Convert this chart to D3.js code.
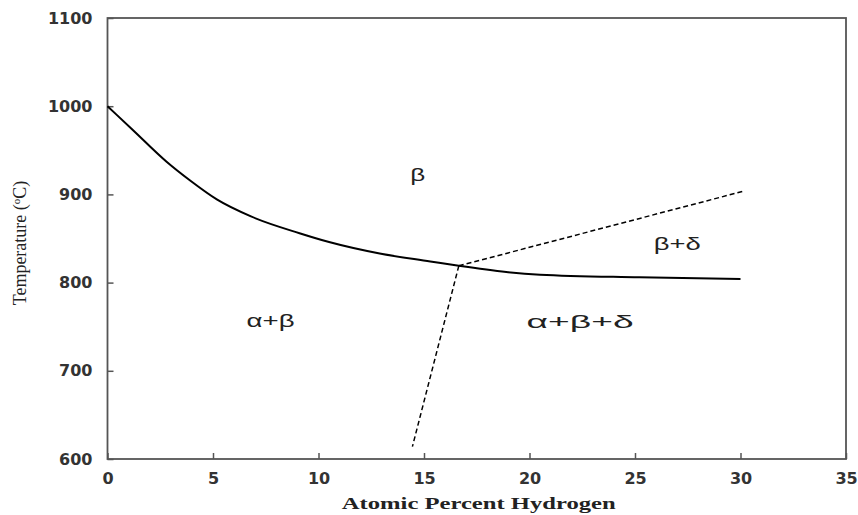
<!DOCTYPE html>
<html>
<head>
<meta charset="utf-8">
<script src="https://cdn.jsdelivr.net/npm/d3@7"></script>
<style>
  body { margin: 0; background: #fff; }
</style>
</head>
<body>
<div id="chart"></div>
<script>
// liquidus / boundary curve (at% H, °C)
const solidX = [0, 1.2, 2.8, 3.9, 5.2, 6.8, 9.1, 10.5, 12.9, 15.3, 16.65, 18.9, 20.5, 25.2, 30];
const solidT = [1000, 973, 937, 916, 894, 875, 856, 846, 833, 824, 819, 812, 809, 806, 804];

// dashed phase boundaries
const upperDashX = [16.65, 30.2];
const upperDashT = [819, 904];
const lowerDashX = [16.65, 14.45];
const lowerDashT = [819, 614];

// region labels
const regionNames = ["β", "β+δ", "α+β", "α+β+δ"];
const regionX = [14.7, 27.0, 7.73, 22.4];
const regionT = [915, 837, 750, 748];
const regionWidth = [15, 47, 48, 107];

const xTicks = [0, 5, 10, 15, 20, 25, 30, 35];
const yTicks = [600, 700, 800, 900, 1000, 1100];

const W = 858, H = 515;
const m = {top: 18, right: 12, bottom: 56, left: 107.5};

const svg = d3.select("#chart").append("svg")
    .attr("width", W)
    .attr("height", H);

const x = d3.scaleLinear().domain([0, 35]).range([m.left, W - m.right]);
const y = d3.scaleLinear().domain([600, 1100]).range([H - m.bottom, m.top]);

// frame
svg.append("rect")
    .attr("x", x(0)).attr("y", y(1100))
    .attr("width", x(35) - x(0)).attr("height", y(600) - y(1100))
    .attr("fill", "none")
    .attr("stroke", "#555")
    .attr("stroke-width", 1.8);

const styleAxis = (g) => {
    g.select(".domain").remove();
    g.selectAll(".tick line").attr("stroke", "#555").attr("stroke-width", 1.5);
    g.selectAll(".tick text")
        .attr("font-family", "'DejaVu Sans', sans-serif")
        .attr("font-weight", "bold")
        .attr("font-size", 16)
        .attr("fill", "#333");
};

svg.append("g")
    .attr("transform", "translate(0," + y(600) + ")")
    .call(d3.axisBottom(x).tickValues(xTicks).tickFormat(d3.format("d")).tickSize(-6).tickPadding(14))
    .call(styleAxis);

svg.append("g")
    .attr("transform", "translate(" + x(0) + ",0)")
    .call(d3.axisLeft(y).tickValues(yTicks).tickFormat(d3.format("d")).tickSize(-6).tickPadding(15))
    .call(styleAxis);

const line = d3.line()
    .x(d => x(d[0]))
    .y(d => y(d[1]))
    .curve(d3.curveMonotoneX);

svg.append("path")
    .datum(solidX.map((d, i) => [d, solidT[i]]))
    .attr("d", line)
    .attr("fill", "none")
    .attr("stroke", "#000")
    .attr("stroke-width", 2);

const straight = d3.line().x(d => x(d[0])).y(d => y(d[1]));
[[upperDashX, upperDashT], [lowerDashX, lowerDashT]].forEach(([xs, ts]) => {
    svg.append("path")
        .datum(xs.map((d, i) => [d, ts[i]]))
        .attr("d", straight)
        .attr("fill", "none")
        .attr("stroke", "#000")
        .attr("stroke-width", 1.5)
        .attr("stroke-dasharray", "5,3");
});

// region labels
svg.selectAll(".region")
    .data(regionNames)
    .enter()
    .append("text")
    .attr("class", "region")
    .attr("x", (d, i) => x(regionX[i]))
    .attr("y", (d, i) => y(regionT[i]))
    .attr("text-anchor", "middle")
    .attr("font-family", "Liberation Sans, Arial, sans-serif")
    .attr("font-size", 19)
    .attr("fill", "#222")
    .attr("textLength", (d, i) => regionWidth[i])
    .attr("lengthAdjust", "spacingAndGlyphs")
    .text(d => d);

// axis titles
svg.append("text")
    .attr("x", (x(0) + x(35)) / 2 + 2)
    .attr("y", 509)
    .attr("text-anchor", "middle")
    .attr("font-family", "Liberation Serif, Times New Roman, serif")
    .attr("font-weight", "bold")
    .attr("font-size", 17)
    .attr("fill", "#222")
    .attr("textLength", 274)
    .attr("lengthAdjust", "spacingAndGlyphs")
    .text("Atomic Percent Hydrogen");

const yt = svg.append("text")
    .attr("transform", "translate(26," + 243 + ") rotate(-90)")
    .attr("text-anchor", "middle")
    .attr("font-family", "Liberation Serif, Times New Roman, serif")
    .attr("font-size", 18)
    .attr("fill", "#222");
yt.append("tspan").text("Temperature (");
yt.append("tspan").attr("font-size", 11).attr("dy", -6).text("o");
yt.append("tspan").attr("dy", 6).text("C)");
</script>
</body>
</html>
